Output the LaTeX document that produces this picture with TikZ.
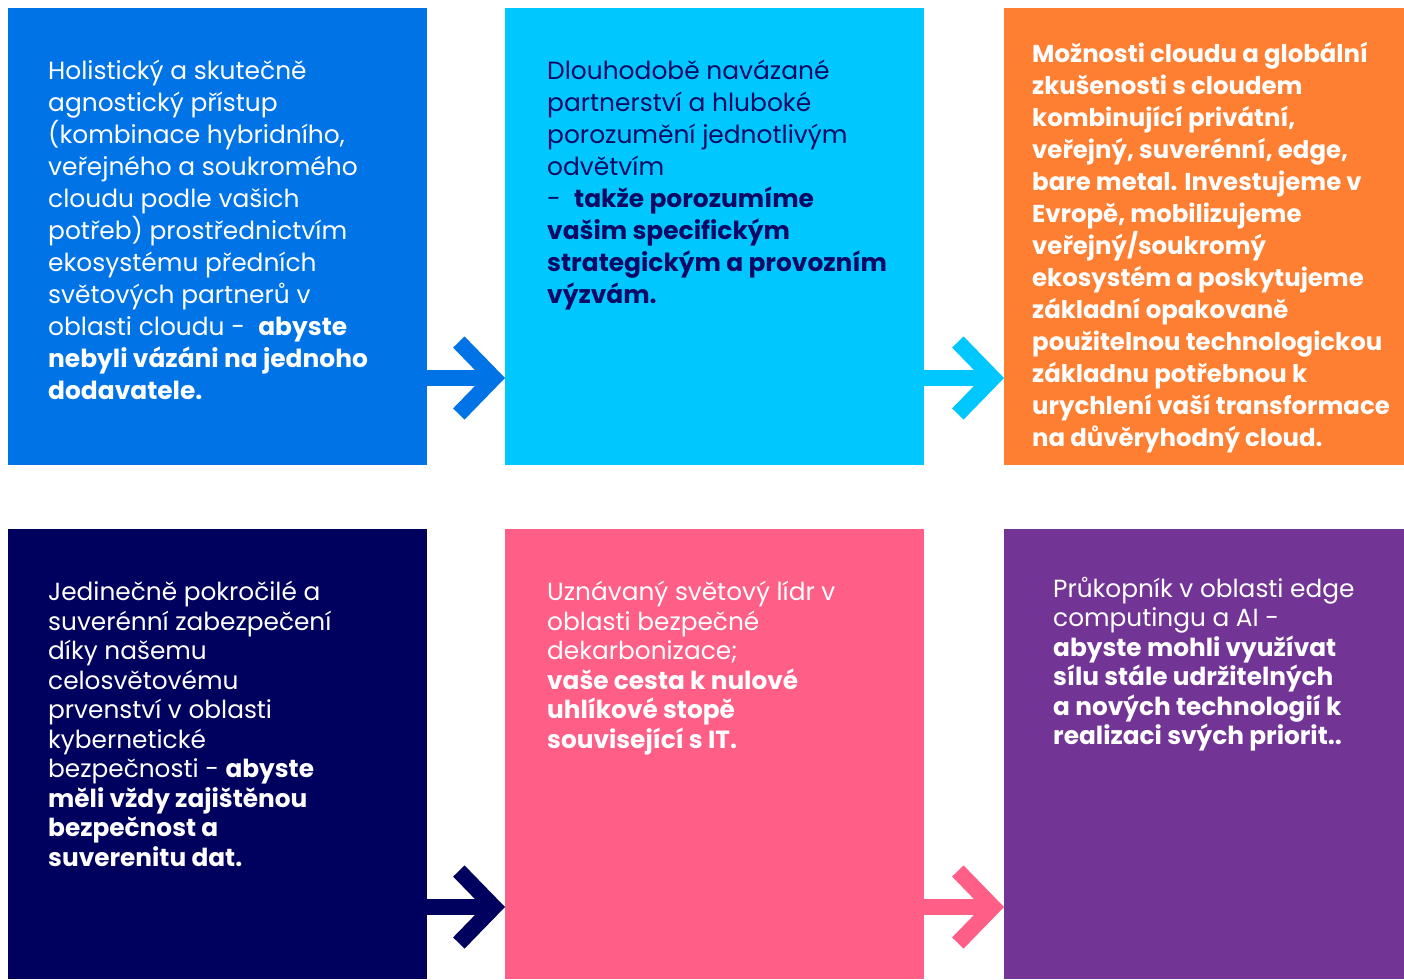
\documentclass[tikz,border=0pt]{standalone}
\usepackage{fontspec}
\setmainfont{Poppins}
\usetikzlibrary{positioning,arrows.meta,calc}
\definecolor{cblue}{HTML}{0073E6}
\definecolor{ccyan}{HTML}{00C8FF}
\definecolor{corange}{HTML}{FF7F32}
\definecolor{cnavy}{HTML}{00005F}
\definecolor{cpink}{HTML}{FF5F87}
\definecolor{cpurple}{HTML}{733595}
\definecolor{ctext}{HTML}{0A0A66}
\tikzset{
  box/.style={rectangle, anchor=north west, inner sep=0pt, outer sep=0pt,
    minimum width=419pt, minimum height=457pt},
  txt/.style={anchor=north west, align=left, inner sep=0pt, text=white,
    font=\fontsize{24.9}{32}\selectfont,
    execute at begin node={\rule{0pt}{26pt}}},
  txtlow/.style={txt, font=\fontsize{24.8}{29.5}\selectfont},
  flow/.style={line width=16pt,
    -{Straight Barb[length=35pt,width=72pt,line join=miter,line cap=butt]}}
}
\begin{document}
\begin{tikzpicture}[x=1pt,y=1pt]
\useasboundingbox (0,0) rectangle (1404,-979);

\node[box, fill=cblue] (B1) at (8,-8) {};
\node[box, fill=ccyan] (B2) at (505,-8) {};
\node[box, fill=corange, minimum width=400pt] (B3) at (1004,-8) {};
\node[box, fill=cnavy, minimum height=450pt] (B4) at (8,-529) {};
\node[box, fill=cpink, minimum height=450pt] (B5) at (505,-529) {};
\node[box, fill=cpurple, minimum width=400pt, minimum height=450pt] (B6) at (1004,-529) {};

% first lines start a strut below the node tops
\node[txt] (T1) at (48,-60) {Holistický a skutečně\\
  agnostický přístup\\
  (kombinace hybridního,\\
  veřejného a soukromého\\
  cloudu podle vašich\\
  potřeb) prostřednictvím\\
  ekosystému předních\\
  světových partnerů v\\
  oblasti cloudu - \ \textbf{abyste}\\
  \textbf{nebyli vázáni na jednoho}\\
  \textbf{dodavatele.}};
\node[txt, text=ctext] (T2) at (547,-60) {Dlouhodobě navázané\\
  partnerství a hluboké\\
  porozumění jednotlivým\\
  odvětvím\\
  - \ \textbf{takže porozumíme}\\
  \textbf{vašim specifickým}\\
  \textbf{strategickým a provozním}\\
  \textbf{výzvám.}};
\node[txt, font=\fontsize{24.4}{32}\selectfont\bfseries] (T3) at (1032,-42) {Možnosti cloudu a globální\\
  zkušenosti s cloudem\\
  kombinující privátní,\\
  veřejný, suverénní, edge,\\
  bare metal. Investujeme v\\
  Evropě, mobilizujeme\\
  veřejný/soukromý\\
  ekosystém a poskytujeme\\
  základní opakovaně\\
  použitelnou technologickou\\
  základnu potřebnou k\\
  urychlení vaší transformace\\
  na důvěryhodný cloud.};
\node[txtlow] (T4) at (48,-581) {Jedinečně pokročilé a\\
  suverénní zabezpečení\\
  díky našemu\\
  celosvětovému\\
  prvenství v oblasti\\
  kybernetické\\
  bezpečnosti - \textbf{abyste}\\
  \textbf{měli vždy zajištěnou}\\
  \textbf{bezpečnost a}\\
  \textbf{suverenitu dat.}};
\node[txtlow] (T5) at (547,-581) {Uznávaný světový lídr v\\
  oblasti bezpečné\\
  dekarbonizace;\\
  \textbf{vaše cesta k nulové}\\
  \textbf{uhlíkové stopě}\\
  \textbf{související s IT.}};
\node[txtlow] (T6) at (1053,-577) {Průkopník v oblasti edge\\
  computingu a AI -\\
  \textbf{abyste mohli využívat}\\
  \textbf{sílu stále udržitelných}\\
  \textbf{a nových technologií k}\\
  \textbf{realizaci svých priorit..}};

\coordinate (A1) at ($(B1.south east)+(0,87)$);
\coordinate (A2) at ($(B2.south east)+(0,87)$);
\coordinate (A4) at ($(B4.south east)+(0,72)$);
\coordinate (A5) at ($(B5.south east)+(0,72)$);
\draw[flow, cblue] (A1) -- (A1 -| B2.west);
\draw[flow, ccyan] (A2) -- (A2 -| B3.west);
\draw[flow, cnavy] (A4) -- (A4 -| B5.west);
\draw[flow, cpink] (A5) -- (A5 -| B6.west);
\end{tikzpicture}
\end{document}
